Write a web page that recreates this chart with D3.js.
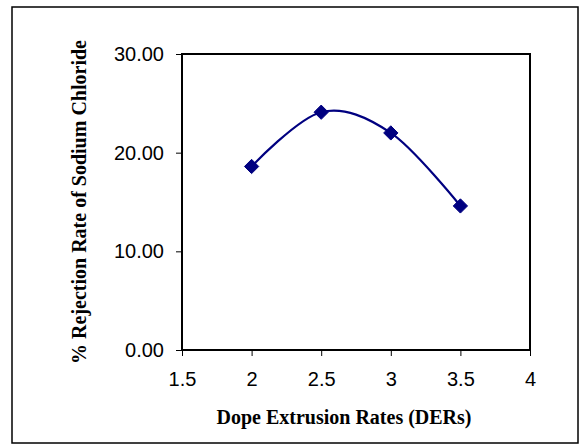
<!DOCTYPE html>
<html>
<head>
<meta charset="utf-8">
<script src="https://cdn.jsdelivr.net/npm/d3@7"></script>
<style>
  html, body { margin: 0; padding: 0; background: #fff; }
  svg { display: block; }
</style>
</head>
<body>
<svg id="chart" width="579" height="444"></svg>
<script>
// ---- data ----
const derValues = [2, 2.5, 3, 3.5];
const rejectionValues = [18.6, 24.1, 22.0, 14.6];
const xTickValues = [1.5, 2, 2.5, 3, 3.5, 4];
const yTickValues = [0, 10, 20, 30];
const xAxisTitle = "Dope Extrusion Rates (DERs)";
const yAxisTitle = "% Rejection Rate of Sodium Chloride";

const svg = d3.select("#chart");
const W = 579, H = 444;
const plot = { left: 182, right: 530, top: 54, bottom: 350 };

svg.append("rect").attr("width", W).attr("height", H).attr("fill", "#fff");
// outer chart border
svg.append("rect")
  .attr("x", 12).attr("y", 7)
  .attr("width", W - 13).attr("height", H - 8)
  .attr("fill", "none").attr("stroke", "#000").attr("stroke-width", 1.5);

const x = d3.scaleLinear().domain([1.5, 4]).range([plot.left, plot.right]);
const y = d3.scaleLinear().domain([0, 30]).range([plot.bottom, plot.top]);

const fontTick = "Arial, 'Liberation Sans', sans-serif";
const fontTitle = "'Times New Roman', 'Liberation Serif', serif";

// axes
const xAxis = d3.axisBottom(x).tickValues(xTickValues).tickSize(6).tickPadding(16)
  .tickFormat(d3.format("~g"));
const yAxis = d3.axisLeft(y).tickValues(yTickValues).tickSize(6).tickPadding(12)
  .tickFormat(d3.format(".2f"));

const gx = svg.append("g").attr("transform", `translate(0,${plot.bottom})`).call(xAxis);
const gy = svg.append("g").attr("transform", `translate(${plot.left},0)`).call(yAxis);
[gx, gy].forEach(g => {
  g.select(".domain").remove();
  g.selectAll(".tick line").attr("stroke", "#000").attr("stroke-width", 1);
  g.selectAll(".tick text").attr("fill", "#000")
    .style("font-family", fontTick).style("font-size", "20px");
});

// plot area frame
svg.append("rect")
  .attr("x", plot.left).attr("y", plot.top)
  .attr("width", plot.right - plot.left).attr("height", plot.bottom - plot.top)
  .attr("fill", "none").attr("stroke", "#000").attr("stroke-width", 2);

// smoothed line
const pts = derValues.map((d, i) => [d, rejectionValues[i]]);
const line = d3.line().x(d => x(d[0])).y(d => y(d[1])).curve(d3.curveCardinal.tension(0));
svg.append("path").datum(pts).attr("d", line)
  .attr("fill", "none").attr("stroke", "#000080").attr("stroke-width", 2.2);

// diamond markers
const sym = d3.symbol().type(d3.symbolDiamond2).size(130);
svg.selectAll(".marker").data(pts).join("path")
  .attr("class", "marker")
  .attr("transform", d => `translate(${x(d[0])},${y(d[1])})`)
  .attr("d", sym)
  .attr("fill", "#000080").attr("stroke", "#000080").attr("stroke-width", 1);

// axis titles
svg.append("text")
  .attr("x", 344).attr("y", 424)
  .attr("text-anchor", "middle")
  .style("font-family", fontTitle).style("font-weight", "bold").style("font-size", "20px")
  .text(xAxisTitle);

svg.append("text")
  .attr("transform", `translate(86,${(plot.top + plot.bottom) / 2}) rotate(-90)`)
  .attr("text-anchor", "middle")
  .style("font-family", fontTitle).style("font-weight", "bold").style("font-size", "20px")
  .text(yAxisTitle);
</script>
</body>
</html>
